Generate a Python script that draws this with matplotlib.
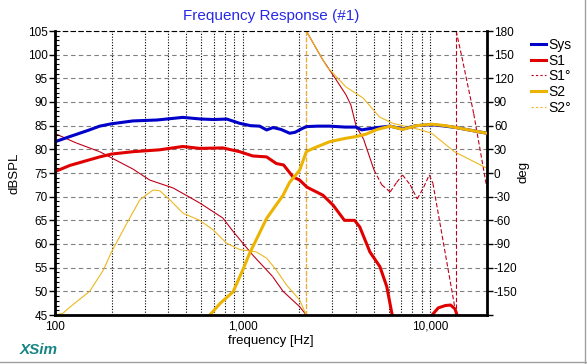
import numpy as np
import matplotlib
matplotlib.use('Agg')
import matplotlib.pyplot as plt
from matplotlib.lines import Line2D

plt.rcParams['font.family'] = ['Liberation Sans', 'DejaVu Sans']

# magnitude curves [dB SPL]
sys_f = [100, 120, 150, 173, 200, 260, 350, 479, 600, 700, 822, 963, 1100, 1230, 1340, 1450,
         1600, 1778, 1900, 2050, 2181, 2500, 2900, 3500, 4020, 4300, 4600, 5200, 6100, 7100,
         8400, 10200, 12000, 13700, 16000, 20000]
sys_db = [81.6, 82.7, 84.0, 84.9, 85.4, 86.0, 86.2, 86.75, 86.4, 86.3, 86.4, 85.5, 85.0, 84.9, 84.1, 84.6,
          84.2, 83.4, 83.6, 84.3, 84.8, 84.9, 84.9, 84.7, 84.7, 84.1, 84.3, 84.6, 84.9, 84.3,
          85.0, 85.2, 84.9, 84.6, 84.1, 83.4]

s1_f = [100, 120, 150, 173, 200, 260, 361, 479, 590, 783, 963, 1130, 1340, 1510, 1650, 1850, 2010,
        2200, 2675, 3030, 3480, 3940, 4200, 4760, 5380, 5850, 6230, 6500, 9000, 10200, 11000,
        12000, 12800, 13500, 14000, 15000]
s1_db = [75.3, 76.6, 77.7, 78.4, 79.0, 79.5, 79.9, 80.6, 80.2, 80.3, 79.5, 78.6, 78.4, 77.0, 76.7, 74.2, 73.5,
         72.0, 70.3, 68.2, 65.0, 65.0, 63.6, 58.3, 55.2, 51.0, 45.3, 42.0, 38.0, 45.0, 46.5,
         47.0, 47.1, 46.3, 44.5, 40.0]

s2_f = [600, 668, 760, 888, 1000, 1087, 1340, 1640, 1775, 2010, 2180, 2370, 2900, 3500, 4020, 4530,
        5200, 6100, 7100, 8400, 10200, 12000, 13700, 16000, 20000]
s2_db = [43.5, 45.0, 47.5, 49.9, 54.5, 58.0, 65.4, 70.3, 73.0, 75.6, 79.5, 80.2, 81.6, 82.3, 82.7, 83.2,
         84.2, 84.9, 84.2, 85.0, 85.3, 85.0, 84.6, 84.1, 83.4]

# phase curves [deg]
s1p_f = [100, 130, 173, 260, 320, 426, 590, 783, 888, 1130, 1440, 1640, 2010, 2180, 2180, 2675, 3030,
         3550, 3770, 4020, 4400, 5000, 5500, 6100, 6600, 7100, 7800, 8500, 9200, 9850, 10300,
         13700, 13700, 14700, 17000, 20000]
s1p_deg = [50, 38, 27, 5, -9, -19, -38, -57, -74, -104, -131, -150, -169.5, -180, 180, 143, 124,
           99, 86, 59, 43, 4, -15, -24, -12, -2.5, -15, -33, -18, -2.5, -13,
           -180, 180, 147, 75, -20]

s2p_f = [100, 100, 110, 120, 153, 181, 200, 241, 283, 333, 361, 409, 481, 590, 695, 820, 963, 1180,
         1340, 1510, 1710, 2010, 2180, 2180, 2800, 3550, 4380, 5350, 6300, 7400, 8800, 10200,
         13400, 20000]
s2p_deg = [180, -180, -178, -170, -150, -123, -100, -64, -34, -21.6, -22.4, -34, -51, -60, -72, -89, -97, -100,
           -108, -123, -142, -161, -180, 180, 135, 109, 95, 71, 63, 59, 55, 50,
           27, 6]

labels = ['Sys', 'S1', 'S1°', 'S2', 'S2°']

c_sys = '#0000c8'
c_s1 = '#e00000'
c_s1p = '#c00018'
c_s2 = '#ecb400'
c_s2p = '#ecb820'

fig = plt.figure(figsize=(5.87, 3.64), dpi=100)
rect = [55/587, 49/364, 432/587, 284/364]
ax2 = fig.add_axes(rect)
ax = fig.add_axes(rect, sharex=ax2)
ax.patch.set_visible(False)

dash = (0, (4, 2))


def draw_phase(axis, f, p, color, dash_from):
    # wraps and the busy top end are dashed, the rest looks solid
    for i in range(len(f) - 1):
        dashed = abs(p[i+1] - p[i]) > 300 or f[i] >= dash_from
        axis.plot(f[i:i+2], p[i:i+2], color=color, lw=0.8,
                  ls=dash if dashed else '-', solid_capstyle='butt')


draw_phase(ax2, s1p_f, s1p_deg, c_s1p, 5000)
draw_phase(ax2, s2p_f, s2p_deg, c_s2p, 1e9)

ax.plot(sys_f, sys_db, color=c_sys, lw=2.2)
ax.plot(s1_f, s1_db, color=c_s1, lw=2.2)
ax.plot(s2_f, s2_db, color=c_s2, lw=2.2)

ax2.set_xscale('log')
ax2.set_xlim(100, 20000)
ax2.set_ylim(-180, 180)
ax.set_ylim(45, 105)

# grid on the phase axes (lines coincide with dB grid)
ax2.set_yticks(np.arange(-180, 181, 30))
ax2.set_yticklabels([str(v) if v > -180 else '' for v in range(-180, 181, 30)])
ax2.grid(True, axis='y', color='#808080', ls=(0, (4, 3)), lw=0.8)
ax2.grid(True, axis='x', which='both', color='black', ls=(0, (1, 1.5)), lw=0.8)
ax2.yaxis.tick_right()
ax2.tick_params(axis='y', direction='out', length=4, width=1, labelsize=8.5, pad=1)

ax.set_xticks([100, 1000, 10000])
ax.set_xticklabels(['100', '1,000', '10,000'])
ax.tick_params(axis='x', which='both', length=0, labelsize=8.5, pad=4)
ax2.tick_params(axis='x', which='both', length=0, labelbottom=False)
ax.xaxis.set_minor_formatter(matplotlib.ticker.NullFormatter())

ax.set_yticks(np.arange(45, 106, 5))
ax.set_yticks(np.arange(45, 106, 1), minor=True)
ax.tick_params(axis='y', which='major', direction='out', length=4, width=1, labelsize=8.5, pad=1)
ax.tick_params(axis='y', which='minor', direction='in', length=3, width=0.8)

for s in ['top', 'right']:
    ax.spines[s].set_visible(False)
for s in ['left', 'bottom']:
    ax.spines[s].set_linewidth(2)
for s in ['left', 'bottom']:
    ax2.spines[s].set_visible(False)
ax2.spines['right'].set_linewidth(2)
ax2.spines['top'].set_linestyle((0, (4, 3)))
ax2.spines['top'].set_linewidth(0.8)

fig.text(271/587, 1 - 16/364, 'Frequency Response (#1)', color='#2828e6', fontsize=11,
         ha='center', va='center')
fig.text(15/587, 1 - 173/364, 'dBSPL', rotation=90, fontsize=9.5, ha='center', va='center')
fig.text(523/587, 1 - 172/364, 'deg', rotation=90, fontsize=9.5, ha='center', va='center')
fig.text(271/587, 1 - 341/364, 'frequency [Hz]', fontsize=9.5, ha='center', va='center')
fig.text(20/587, 1 - 350/364, 'XSim', color='#178484', fontsize=11, fontweight='bold',
         fontstyle='italic', ha='left', va='center')

handles = [Line2D([], [], color=c_sys, lw=2.2),
           Line2D([], [], color=c_s1, lw=2.2),
           Line2D([], [], color=c_s1p, lw=0.8, ls=(0, (2, 2))),
           Line2D([], [], color=c_s2, lw=2.2),
           Line2D([], [], color=c_s2p, lw=0.8, ls=(0, (2, 2)))]
fig.legend(handles, labels, loc='upper left', bbox_to_anchor=(531/587, 1 - 38/364),
           frameon=False, fontsize=10, handlelength=1.1, handletextpad=0.15,
           labelspacing=0.12, borderpad=0, borderaxespad=0)

# window frame lines
fig.add_artist(Line2D([585/587, 585/587], [0, 1], color='#a0a0a0', lw=1))
fig.add_artist(Line2D([0, 1], [2/364, 2/364], color='#a0a0a0', lw=1))

fig.savefig('out.png', dpi=100)
